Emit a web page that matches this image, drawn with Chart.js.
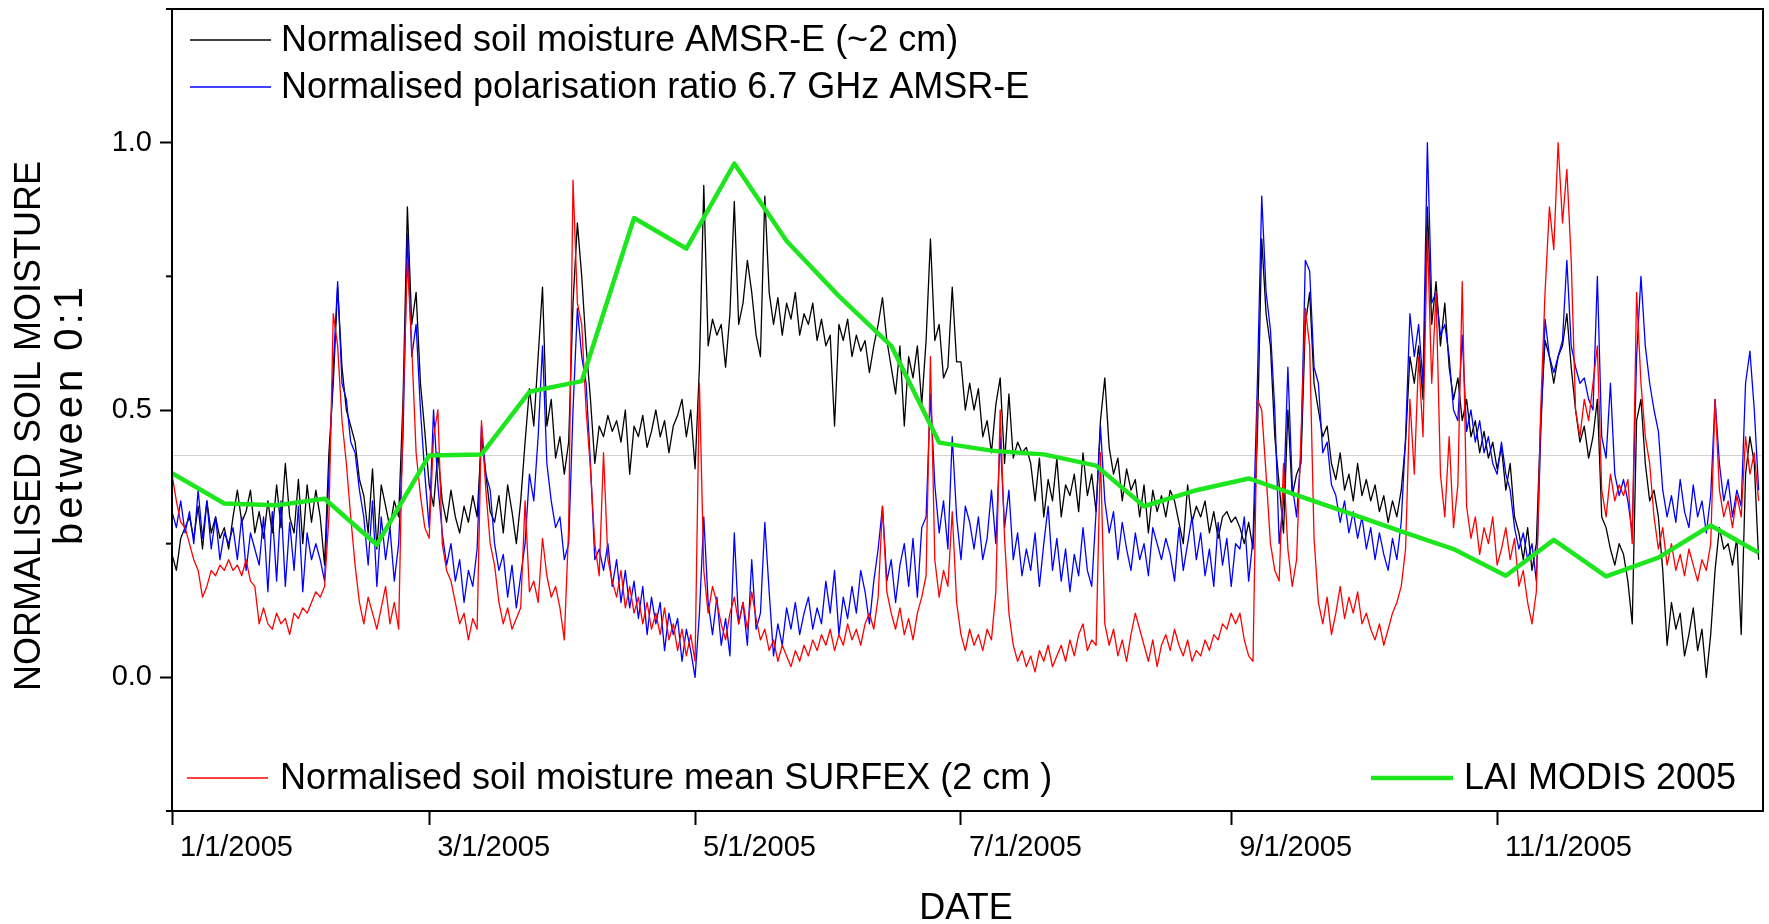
<!DOCTYPE html>
<html>
<head>
<meta charset="utf-8">
<script src="https://cdn.jsdelivr.net/npm/chart.js@4.4.1/dist/chart.umd.min.js"></script>
<style>
  html, body { margin: 0; padding: 0; background: #fff; }
  #wrap { width: 1769px; height: 924px; }
</style>
</head>
<body>
<div id="wrap"><canvas id="smChart" width="1769" height="924"></canvas></div>
<script>
const FONT = "'Liberation Sans', Arial, Helvetica, sans-serif";

// x axis: day of year 2005 (0 = 1/1/2005)
const tickDays = [0, 59, 120, 181, 243, 304];
const tickLabels = ['1/1/2005', '3/1/2005', '5/1/2005', '7/1/2005', '9/1/2005', '11/1/2005'];
const yTickValues = [0, 0.5, 1.0];
const yMinorTicks = [-0.25, 0.25, 0.75, 1.25];
const refLevel = 0.415;

// daily values (day 0..364)
const amsrSM = [
  0.23,0.20,0.26,0.28,0.30,0.26,0.32,0.24,0.33,0.27, 0.30,0.26,0.28,0.24,0.30,0.35,0.29,0.31,0.35,0.27,
  0.31,0.26,0.33,0.27,0.36,0.28,0.40,0.30,0.27,0.37, 0.25,0.36,0.29,0.35,0.30,0.21,0.42,0.55,0.73,0.58,
  0.50,0.47,0.44,0.37,0.34,0.27,0.39,0.24,0.36,0.32, 0.28,0.33,0.30,0.52,0.88,0.66,0.72,0.55,0.46,0.36,
  0.32,0.42,0.33,0.29,0.35,0.30,0.27,0.32,0.29,0.34, 0.30,0.45,0.38,0.31,0.29,0.34,0.27,0.36,0.31,0.25,
  0.33,0.44,0.54,0.47,0.60,0.73,0.47,0.52,0.41,0.45, 0.38,0.44,0.70,0.85,0.75,0.62,0.52,0.40,0.47,0.45,
  0.49,0.46,0.48,0.44,0.50,0.38,0.47,0.45,0.49,0.43, 0.46,0.50,0.45,0.48,0.42,0.47,0.49,0.52,0.45,0.50,
  0.39,0.58,0.92,0.62,0.67,0.64,0.66,0.58,0.68,0.89, 0.66,0.70,0.78,0.72,0.64,0.60,0.90,0.72,0.66,0.71,
  0.64,0.70,0.67,0.72,0.64,0.68,0.66,0.70,0.63,0.67, 0.62,0.64,0.47,0.66,0.63,0.67,0.60,0.64,0.61,0.63,
  0.57,0.62,0.66,0.71,0.63,0.58,0.53,0.62,0.47,0.60, 0.56,0.62,0.51,0.63,0.82,0.63,0.66,0.56,0.58,0.73,
  0.59,0.59,0.50,0.55,0.50,0.54,0.45,0.48,0.42,0.51, 0.56,0.40,0.53,0.41,0.44,0.42,0.43,0.40,0.33,0.41,
  0.30,0.37,0.33,0.41,0.30,0.36,0.34,0.38,0.31,0.42, 0.34,0.38,0.31,0.48,0.56,0.43,0.38,0.41,0.33,0.39,
  0.35,0.37,0.30,0.36,0.27,0.35,0.31,0.34,0.30,0.35, 0.33,0.29,0.25,0.36,0.29,0.32,0.30,0.33,0.27,0.31,
  0.26,0.30,0.31,0.29,0.30,0.28,0.25,0.29,0.24,0.45, 0.82,0.68,0.62,0.45,0.36,0.27,0.50,0.34,0.38,0.40,
  0.66,0.72,0.55,0.50,0.45,0.47,0.40,0.37,0.42,0.35, 0.38,0.33,0.40,0.34,0.37,0.33,0.36,0.31,0.34,0.29,
  0.33,0.30,0.35,0.44,0.60,0.55,0.62,0.52,0.88,0.66, 0.74,0.62,0.70,0.58,0.52,0.56,0.48,0.52,0.45,0.48,
  0.42,0.46,0.41,0.44,0.39,0.43,0.35,0.40,0.30,0.27, 0.22,0.28,0.20,0.25,0.48,0.63,0.60,0.55,0.60,0.62,
  0.68,0.58,0.50,0.44,0.47,0.41,0.45,0.52,0.30,0.28, 0.24,0.21,0.25,0.23,0.18,0.10,0.48,0.52,0.40,0.33,
  0.35,0.30,0.20,0.06,0.14,0.09,0.12,0.04,0.08,0.13, 0.05,0.09,0.00,0.08,0.20,0.28,0.24,0.25,0.21,0.26,
  0.08,0.38,0.45,0.40,0.22
];

const amsrPR = [
  0.31,0.28,0.33,0.27,0.31,0.25,0.35,0.26,0.33,0.24, 0.30,0.22,0.27,0.25,0.28,0.22,0.30,0.20,0.27,0.24,
  0.21,0.30,0.16,0.31,0.18,0.33,0.17,0.29,0.20,0.32, 0.16,0.27,0.22,0.25,0.22,0.18,0.38,0.58,0.74,0.55,
  0.52,0.44,0.42,0.35,0.30,0.21,0.33,0.17,0.30,0.22, 0.28,0.18,0.25,0.45,0.83,0.60,0.66,0.50,0.38,0.28,
  0.50,0.36,0.27,0.21,0.25,0.18,0.22,0.14,0.20,0.17, 0.24,0.47,0.38,0.35,0.25,0.20,0.23,0.15,0.21,0.13,
  0.19,0.25,0.38,0.33,0.45,0.62,0.40,0.33,0.28,0.30, 0.22,0.25,0.50,0.69,0.60,0.55,0.40,0.22,0.24,0.20,
  0.25,0.17,0.22,0.14,0.20,0.13,0.18,0.11,0.17,0.08, 0.15,0.10,0.14,0.05,0.12,0.08,0.11,0.03,0.09,0.05,
  0.00,0.12,0.30,0.14,0.08,0.15,0.06,0.11,0.04,0.27, 0.10,0.14,0.06,0.22,0.09,0.12,0.29,0.16,0.04,0.10,
  0.06,0.13,0.09,0.14,0.08,0.12,0.15,0.09,0.13,0.10, 0.18,0.12,0.20,0.08,0.15,0.11,0.17,0.12,0.20,0.16,
  0.10,0.18,0.24,0.32,0.18,0.22,0.14,0.21,0.25,0.17, 0.26,0.15,0.28,0.30,0.53,0.36,0.27,0.33,0.24,0.45,
  0.30,0.22,0.32,0.29,0.24,0.30,0.22,0.26,0.35,0.25, 0.45,0.28,0.35,0.22,0.27,0.19,0.24,0.20,0.27,0.17,
  0.25,0.32,0.20,0.26,0.18,0.24,0.16,0.23,0.19,0.28, 0.20,0.17,0.31,0.47,0.33,0.27,0.31,0.22,0.29,0.24,
  0.20,0.27,0.22,0.25,0.19,0.28,0.25,0.22,0.26,0.23, 0.18,0.28,0.20,0.25,0.30,0.22,0.27,0.19,0.24,0.17,
  0.29,0.21,0.26,0.17,0.25,0.24,0.30,0.18,0.26,0.55, 0.90,0.72,0.65,0.50,0.25,0.33,0.58,0.36,0.30,0.42,
  0.78,0.76,0.58,0.55,0.42,0.44,0.36,0.34,0.29,0.33, 0.27,0.31,0.26,0.30,0.24,0.28,0.22,0.27,0.23,0.20,
  0.26,0.22,0.29,0.45,0.68,0.60,0.66,0.55,1.00,0.70, 0.72,0.64,0.66,0.60,0.50,0.48,0.64,0.46,0.50,0.44,
  0.48,0.42,0.45,0.40,0.38,0.44,0.38,0.35,0.28,0.24, 0.27,0.22,0.25,0.18,0.45,0.67,0.60,0.57,0.60,0.63,
  0.78,0.62,0.58,0.55,0.56,0.52,0.50,0.75,0.45,0.41, 0.55,0.38,0.34,0.37,0.33,0.27,0.60,0.75,0.62,0.55,
  0.50,0.46,0.35,0.30,0.34,0.29,0.37,0.31,0.28,0.36, 0.30,0.33,0.27,0.34,0.52,0.40,0.33,0.37,0.30,0.35,
  0.32,0.55,0.61,0.50,0.35
];

const surfexSM = [
  0.38,0.33,0.29,0.28,0.25,0.22,0.20,0.15,0.17,0.20, 0.19,0.21,0.20,0.22,0.20,0.21,0.19,0.22,0.18,0.17,
  0.10,0.13,0.10,0.09,0.12,0.10,0.11,0.08,0.12,0.11, 0.13,0.12,0.14,0.16,0.15,0.17,0.30,0.68,0.62,0.48,
  0.40,0.30,0.21,0.14,0.10,0.15,0.12,0.09,0.13,0.17, 0.10,0.14,0.09,0.50,0.78,0.62,0.42,0.34,0.28,0.26,
  0.45,0.50,0.25,0.20,0.18,0.14,0.10,0.12,0.07,0.11, 0.09,0.48,0.35,0.25,0.21,0.14,0.10,0.13,0.09,0.11,
  0.13,0.33,0.16,0.18,0.14,0.26,0.19,0.15,0.17,0.13, 0.07,0.28,0.93,0.70,0.66,0.50,0.39,0.25,0.19,0.42,
  0.22,0.18,0.15,0.20,0.13,0.17,0.12,0.15,0.10,0.14, 0.09,0.12,0.08,0.13,0.07,0.10,0.05,0.09,0.04,0.08,
  0.03,0.55,0.20,0.12,0.17,0.14,0.10,0.07,0.12,0.15, 0.10,0.14,0.09,0.16,0.11,0.07,0.09,0.05,0.07,0.03,
  0.06,0.04,0.02,0.05,0.03,0.06,0.04,0.07,0.05,0.08, 0.06,0.09,0.05,0.08,0.06,0.10,0.07,0.09,0.06,0.10,
  0.12,0.09,0.15,0.32,0.16,0.12,0.09,0.13,0.08,0.11, 0.07,0.12,0.15,0.19,0.60,0.22,0.15,0.20,0.17,0.31,
  0.14,0.08,0.05,0.09,0.06,0.08,0.05,0.09,0.07,0.16, 0.50,0.26,0.12,0.06,0.03,0.05,0.02,0.04,0.01,0.05,
  0.03,0.06,0.02,0.04,0.06,0.03,0.07,0.04,0.08,0.10, 0.05,0.07,0.06,0.42,0.10,0.06,0.09,0.04,0.07,0.03,
  0.08,0.12,0.09,0.06,0.03,0.07,0.02,0.06,0.08,0.05, 0.09,0.06,0.04,0.07,0.03,0.05,0.04,0.07,0.05,0.08,
  0.07,0.10,0.09,0.12,0.10,0.12,0.07,0.04,0.03,0.52, 0.50,0.38,0.25,0.20,0.18,0.40,0.24,0.17,0.22,0.45,
  0.69,0.62,0.26,0.14,0.10,0.15,0.08,0.12,0.17,0.11, 0.15,0.12,0.16,0.10,0.12,0.09,0.07,0.10,0.06,0.09,
  0.12,0.14,0.17,0.24,0.52,0.38,0.60,0.45,0.83,0.55, 0.72,0.38,0.30,0.45,0.28,0.36,0.74,0.32,0.26,0.30,
  0.23,0.28,0.25,0.30,0.21,0.24,0.28,0.22,0.26,0.17, 0.20,0.14,0.10,0.16,0.50,0.72,0.88,0.80,1.00,0.85,
  0.95,0.78,0.50,0.45,0.52,0.48,0.55,0.62,0.35,0.30, 0.38,0.33,0.36,0.34,0.37,0.25,0.72,0.55,0.45,0.40,
  0.30,0.24,0.28,0.21,0.25,0.20,0.23,0.19,0.24,0.21, 0.18,0.22,0.20,0.25,0.52,0.35,0.30,0.33,0.28,0.34,
  0.30,0.45,0.38,0.42,0.33
];

// LAI MODIS 2005 composites
const laiDays = [0,12,24,35,47,59,71,82,94,106,118,129,141,153,165,176,188,200,212,223,235,247,259,270,282,294,306,317,329,341,353,364];
const laiValues = [0.382,0.325,0.322,0.334,0.248,0.415,0.417,0.534,0.554,0.859,0.802,0.961,0.816,0.713,0.620,0.439,0.424,0.417,0.396,0.320,0.350,0.372,0.338,0.307,0.273,0.240,0.190,0.257,0.189,0.224,0.284,0.233];

const GREEN = '#1ee61e';

function daily(vals) {
  return vals.map((v, i) => ({ x: i, y: v }));
}

const legendEntries = [
  { text: 'Normalised soil moisture AMSR-E (~2 cm)', color: '#000000', lw: 1.3, x0: 190, x1: 271, tx: 281, y: 40 },
  { text: 'Normalised polarisation ratio 6.7 GHz AMSR-E', color: '#0000ff', lw: 1.3, x0: 190, x1: 271, tx: 281, y: 87 },
  { text: 'Normalised soil moisture mean SURFEX (2 cm )', color: '#ff0000', lw: 1.3, x0: 187, x1: 268, tx: 280, y: 778 },
  { text: 'LAI MODIS 2005', color: GREEN, lw: 4.5, x0: 1371, x1: 1453, tx: 1464, y: 778 }
];

const decorPlugin = {
  id: 'decor',
  beforeDatasetsDraw(chart) {
    const { ctx, chartArea: a, scales: { y } } = chart;
    const py = Math.round(y.getPixelForValue(refLevel)) + 0.5;
    ctx.save();
    ctx.strokeStyle = '#d2d2d2';
    ctx.lineWidth = 1;
    ctx.beginPath();
    ctx.moveTo(a.left, py);
    ctx.lineTo(a.right, py);
    ctx.stroke();
    ctx.restore();
  },
  afterDatasetsDraw(chart) {
    const { ctx, chartArea: a, scales: { y } } = chart;
    ctx.save();
    // frame
    ctx.strokeStyle = '#000';
    ctx.lineWidth = 2;
    ctx.strokeRect(a.left, a.top, a.right - a.left, a.bottom - a.top);
    // minor y ticks
    yMinorTicks.forEach(v => {
      const py = y.getPixelForValue(v);
      ctx.beginPath();
      ctx.moveTo(a.left - 6, py);
      ctx.lineTo(a.left, py);
      ctx.stroke();
    });
    // legend
    ctx.font = '36px ' + FONT;
    ctx.textBaseline = 'middle';
    ctx.textAlign = 'left';
    legendEntries.forEach(e => {
      ctx.strokeStyle = e.color;
      ctx.lineWidth = e.lw;
      ctx.beginPath();
      ctx.moveTo(e.x0, e.y);
      ctx.lineTo(e.x1, e.y);
      ctx.stroke();
      ctx.fillStyle = '#000';
      ctx.fillText(e.text, e.tx, e.y + 1);
    });
    // axis titles
    ctx.fillStyle = '#000';
    ctx.textAlign = 'center';
    ctx.fillText('DATE', 966, 909);
    ctx.translate(30, 426);
    ctx.rotate(-Math.PI / 2);
    ctx.fillText('NORMALISED SOIL MOISTURE', 0, 0);
    ctx.font = '40px ' + FONT;
    ctx.letterSpacing = '4px';
    ctx.fillText('between 0:1', 12, 41);
    ctx.restore();
  }
};

const tickFont = { family: FONT, size: 29 };

new Chart(document.getElementById('smChart'), {
  type: 'line',
  data: {
    datasets: [
      { label: 'LAI MODIS 2005', data: laiDays.map((d, i) => ({ x: d, y: laiValues[i] })),
        borderColor: GREEN, borderWidth: 4.5, order: 0 },
      { label: 'Normalised soil moisture mean SURFEX (2 cm )', data: daily(surfexSM),
        borderColor: '#ff0000', borderWidth: 1.3, order: 1 },
      { label: 'Normalised polarisation ratio 6.7 GHz AMSR-E', data: daily(amsrPR),
        borderColor: '#0000ff', borderWidth: 1.3, order: 2 },
      { label: 'Normalised soil moisture AMSR-E (~2 cm)', data: daily(amsrSM),
        borderColor: '#000000', borderWidth: 1.3, order: 3 }
    ]
  },
  options: {
    responsive: false,
    animation: false,
    devicePixelRatio: 1,
    layout: { padding: { left: 0, right: 6, top: 9, bottom: 0 } },
    elements: {
      point: { radius: 0 },
      line: { tension: 0, borderJoinStyle: 'round', fill: false }
    },
    plugins: {
      legend: { display: false },
      tooltip: { enabled: false }
    },
    scales: {
      x: {
        type: 'linear',
        min: 0,
        max: 365,
        afterBuildTicks: s => { s.ticks = tickDays.map(v => ({ value: v })); },
        afterFit: s => { s.height = 113; s.paddingLeft = 0; s.paddingRight = 0; },
        ticks: {
          callback: (v, i) => tickLabels[i],
          align: 'start',
          labelOffset: 8,
          padding: 6,
          autoSkip: false,
          maxRotation: 0,
          color: '#000',
          font: tickFont
        },
        grid: { drawOnChartArea: false, tickLength: 14, tickWidth: 2, color: '#000' },
        border: { display: false }
      },
      y: {
        min: -0.25,
        max: 1.25,
        afterBuildTicks: s => { s.ticks = yTickValues.map(v => ({ value: v })); },
        afterFit: s => { s.width = 172; s.paddingTop = 0; s.paddingBottom = 0; },
        ticks: {
          callback: v => v.toFixed(1),
          padding: 8,
          color: '#000',
          font: tickFont
        },
        grid: { drawOnChartArea: false, tickLength: 12, tickWidth: 2, color: '#000' },
        border: { display: false }
      }
    }
  },
  plugins: [decorPlugin]
});
</script>
</body>
</html>
